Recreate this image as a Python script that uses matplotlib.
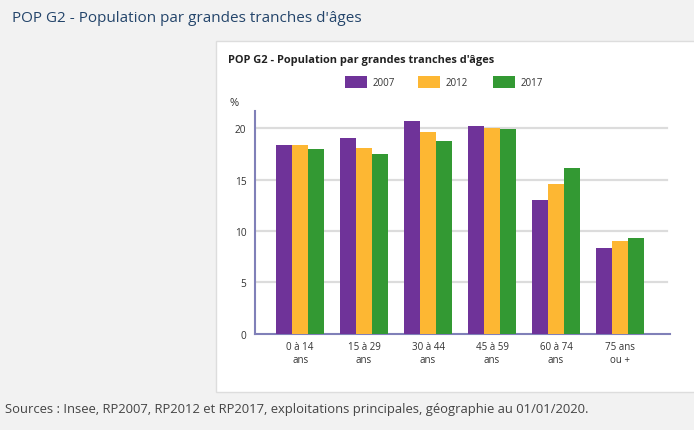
import matplotlib.pyplot as plt
import numpy as np
from matplotlib.patches import Rectangle

plt.rcParams["font.family"] = ["Open Sans", "DejaVu Sans"]

# Data
categories = ["0 à 14\nans", "15 à 29\nans", "30 à 44\nans", "45 à 59\nans", "60 à 74\nans", "75 ans\nou +"]
years = ["2007", "2012", "2017"]
values_2007 = [18.4, 19.0, 20.7, 20.25, 13.05, 8.4]
values_2012 = [18.4, 18.1, 19.6, 20.0, 14.6, 9.0]
values_2017 = [18.0, 17.5, 18.8, 19.9, 16.15, 9.3]
yticks = [0, 5, 10, 15, 20]

colors = ["#6f3399", "#fdb733", "#339933"]
series = [values_2007, values_2012, values_2017]

W, H = 694, 431
fig = plt.figure(figsize=(W / 100, H / 100), dpi=100)
fig.patch.set_facecolor("#f2f2f2")

# White panel holding the chart
panel = Rectangle((216 / W, 1 - 393 / H), 1.0, (393 - 42) / H,
                  transform=fig.transFigure, facecolor="white",
                  edgecolor="#dddddd", linewidth=1, zorder=0)
fig.add_artist(panel)

fig.text(12 / W, 1 - 18 / H, "POP G2 - Population par grandes tranches d'âges",
         fontsize=11, color="#24456b", va="center", ha="left")
fig.text(228 / W, 1 - 61 / H, "POP G2 - Population par grandes tranches d'âges",
         fontsize=7.9, fontweight="bold", color="#222222", va="center", ha="left")
fig.text(5 / W, 1 - 410 / H,
         "Sources : Insee, RP2007, RP2012 et RP2017, exploitations principales, géographie au 01/01/2020.",
         fontsize=9.4, color="#444444", va="center", ha="left")

# Legend drawn manually to match the layout
legend_x = [345, 418, 493]
for lx, col, yr in zip(legend_x, colors, years):
    fig.add_artist(Rectangle((lx / W, 1 - 89 / H), 22 / W, 12 / H,
                             transform=fig.transFigure, facecolor=col, edgecolor="none"))
    fig.text((lx + 28) / W, 1 - 83 / H, yr, fontsize=7, color="#333333",
             va="center", ha="left")

fig.text(229 / W, 1 - 103 / H, "%", fontsize=8, color="#333333", va="center", ha="left")

ax = fig.add_axes([254.7 / W, 1 - 334.9 / H, (670 - 254.7) / W, (334.9 - 111.7) / H])
ax.set_facecolor("none")

x = np.arange(len(categories))
width = 0.25
for i, (vals, col) in enumerate(zip(series, colors)):
    ax.bar(x + (i - 1) * width, vals, width, color=col, zorder=3)

ax.set_xlim(-0.71, 5.78)
ax.set_ylim(0, 21.7)
ax.set_yticks(yticks)
ax.set_yticklabels([str(t) for t in yticks], fontsize=7.3, color="#333333")
ax.set_xticks(x)
ax.set_xticklabels(categories, fontsize=7, color="#333333", linespacing=1.25)
ax.tick_params(axis="both", length=0, pad=6)
ax.tick_params(axis="x", pad=5)

for t in yticks[1:]:
    ax.plot([0, 0.993], [t, t], transform=ax.get_yaxis_transform(),
            color="#dcdcdc", linewidth=1.6, zorder=1)

for side in ["top", "right"]:
    ax.spines[side].set_visible(False)
for side in ["left", "bottom"]:
    ax.spines[side].set_color("#8080b8")
    ax.spines[side].set_linewidth(1.5)

fig.savefig("out.png", dpi=100, facecolor=fig.get_facecolor())
